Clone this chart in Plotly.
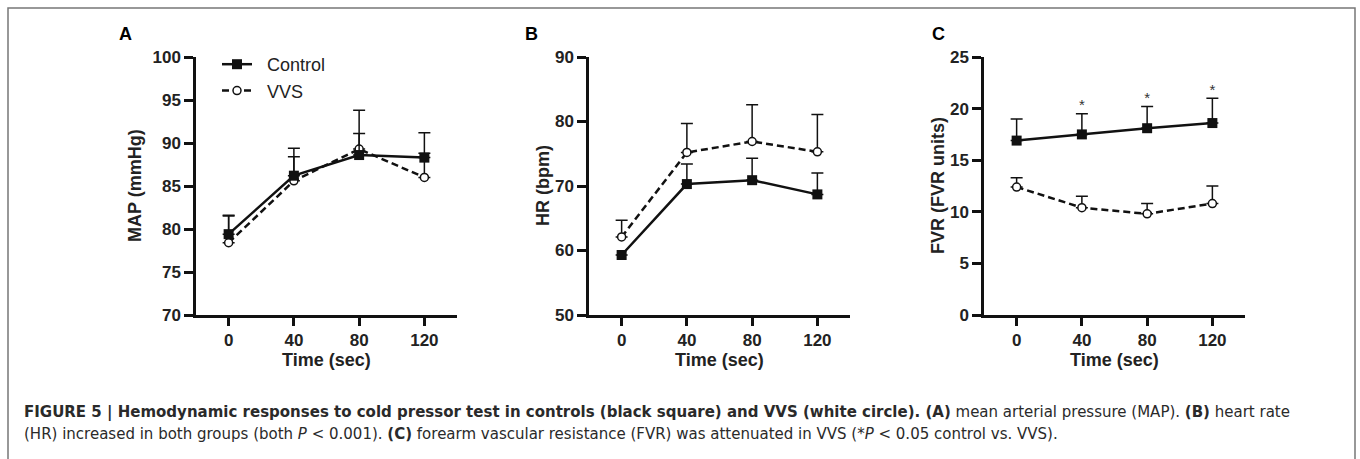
import plotly.graph_objects as go

W, H = 1360, 459

time_s = [0, 40, 80, 120]
time_ticks = [0, 40, 80, 120]

map_control = [79.4, 86.2, 88.6, 88.3]
map_control_err = [2.2, 3.2, 2.5, 2.9]
map_vvs = [78.4, 85.6, 89.3, 86.0]
map_vvs_err = [3.1, 2.8, 4.5, 2.8]

hr_control = [59.3, 70.3, 70.9, 68.7]
hr_control_err = [0.0, 3.1, 3.4, 3.3]
hr_vvs = [62.1, 75.2, 76.9, 75.3]
hr_vvs_err = [2.6, 4.5, 5.7, 5.8]

fvr_control = [16.9, 17.5, 18.1, 18.6]
fvr_control_err = [2.1, 2.0, 2.1, 2.4]
fvr_vvs = [12.4, 10.4, 9.8, 10.8]
fvr_vvs_err = [0.9, 1.1, 1.0, 1.7]
fvr_sig = [False, True, True, True]

map_ticks = [70, 75, 80, 85, 90, 95, 100]
hr_ticks = [50, 60, 70, 80, 90]
fvr_ticks = [0, 5, 10, 15, 20, 25]

FONT = "Liberation Sans, Arial, Helvetica, sans-serif"
CAPFONT = "DejaVu Sans, Liberation Sans, Arial, sans-serif"
INK = "#111111"
NB = "\u00a0"


def px_x(p):
    return p / W


def px_y(p):
    return 1 - p / H


panels = [
    dict(x0=196, x1=457, label="A", label_x=125, ytitle="MAP (mmHg)", ytitle_x=135,
         rng=[70, 100], ticks=map_ticks,
         ctrl=map_control, ctrl_e=map_control_err, vvs=map_vvs, vvs_e=map_vvs_err),
    dict(x0=589, x1=850, label="B", label_x=531, ytitle="HR (bpm)", ytitle_x=543,
         rng=[50, 90], ticks=hr_ticks,
         ctrl=hr_control, ctrl_e=hr_control_err, vvs=hr_vvs, vvs_e=hr_vvs_err),
    dict(x0=984, x1=1245, label="C", label_x=938, ytitle="FVR (FVR units)", ytitle_x=938,
         rng=[0, 25], ticks=fvr_ticks,
         ctrl=fvr_control, ctrl_e=fvr_control_err, vvs=fvr_vvs, vvs_e=fvr_vvs_err),
]
Y_TOP, Y_BOT = 57, 315

fig = go.Figure()
annotations = []
layout_axes = {}

for i, p in enumerate(panels):
    n = "" if i == 0 else str(i + 1)
    xa, ya = "x" + n, "y" + n
    fig.add_trace(go.Scatter(
        x=time_s, y=p["vvs"], xaxis=xa, yaxis=ya, mode="lines+markers",
        name=NB + NB + "VVS", showlegend=(i == 0), legendgroup="vvs", legendrank=2,
        line=dict(color=INK, width=2.5, dash="7px,4px"),
        marker=dict(symbol="circle", size=8, color="white", line=dict(color=INK, width=1.5)),
        error_y=dict(type="data", array=p["vvs_e"], arrayminus=[0] * 4, symmetric=False,
                     color=INK, thickness=1.5, width=6),
    ))
    fig.add_trace(go.Scatter(
        x=time_s, y=p["ctrl"], xaxis=xa, yaxis=ya, mode="lines+markers",
        name=NB + NB + "Control", showlegend=(i == 0), legendgroup="ctrl", legendrank=1,
        line=dict(color=INK, width=2.5),
        marker=dict(symbol="square", size=10, color=INK, line=dict(color=INK, width=0)),
        error_y=dict(type="data", array=p["ctrl_e"], arrayminus=[0] * 4, symmetric=False,
                     color=INK, thickness=1.5, width=6),
    ))
    layout_axes["xaxis" + n] = dict(
        domain=[px_x(p["x0"]), px_x(p["x1"])], range=[-20, 140],
        tickmode="array", tickvals=time_ticks, ticktext=[str(t) for t in time_ticks],
        showline=True, linewidth=2.5, linecolor=INK, ticks="outside", ticklen=8,
        tickwidth=2.5, tickcolor=INK, showgrid=False, zeroline=False, automargin=False,
        tickfont=dict(family=FONT, size=17, color="#222", weight="bold"),
        anchor=ya, fixedrange=True,
    )
    layout_axes["yaxis" + n] = dict(
        domain=[px_y(Y_BOT), px_y(Y_TOP)], range=p["rng"],
        tickmode="array", tickvals=p["ticks"], ticktext=[str(t) for t in p["ticks"]],
        showline=True, linewidth=2.5, linecolor=INK, ticks="outside", ticklen=9,
        tickwidth=2.5, tickcolor=INK, showgrid=False, zeroline=False, automargin=False,
        tickfont=dict(family=FONT, size=17, color="#222", weight="bold"),
        anchor=xa, fixedrange=True,
    )
    annotations.append(dict(
        text="<b>%s</b>" % p["label"], x=px_x(p["label_x"]), y=px_y(34), xref="paper", yref="paper",
        showarrow=False, font=dict(family=FONT, size=18, color="#000"), xanchor="center", yanchor="middle"))
    annotations.append(dict(
        text="<b>%s</b>" % p["ytitle"], x=px_x(p["ytitle_x"]), y=px_y((Y_TOP + Y_BOT) / 2),
        xref="paper", yref="paper", textangle=-90, showarrow=False,
        font=dict(family=FONT, size=18, color="#222"), xanchor="center", yanchor="middle"))
    annotations.append(dict(
        text="<b>Time (sec)</b>", x=60, y=px_y(360), xref=xa, yref="paper", showarrow=False,
        font=dict(family=FONT, size=18, color="#222"), xanchor="center", yanchor="middle"))

sig_x = [t for t, s in zip(time_s, fvr_sig) if s]
sig_y = [c + e for c, e, s in zip(fvr_control, fvr_control_err, fvr_sig) if s]
fig.add_trace(go.Scatter(
    x=sig_x, y=sig_y, xaxis="x3", yaxis="y3", mode="text", text=["*"] * len(sig_x),
    textposition="top center",
    textfont=dict(family=FONT, size=15, color="#333"), showlegend=False, hoverinfo="skip"))

cap1 = ("<b>FIGURE 5 | Hemodynamic responses to cold pressor test in controls (black square) and VVS "
        "(white circle). (A)</b> mean arterial pressure (MAP). <b>(B)</b> heart rate")
cap2 = ("(HR) increased in both groups (both <i>P</i> &lt; 0.001). <b>(C)</b> forearm vascular "
        "resistance (FVR) was attenuated in VVS (*<i>P</i> &lt; 0.05 control vs. VVS).")
for txt, yy in [(cap1, 412), (cap2, 434)]:
    annotations.append(dict(
        text=txt, x=px_x(22), y=px_y(yy), xref="paper", yref="paper", showarrow=False,
        xanchor="left", yanchor="middle", font=dict(family=CAPFONT, size=15, color="#2a2a2a")))

fig.update_layout(
    template="none",
    width=W, height=H, margin=dict(l=0, r=0, t=0, b=0, pad=0, autoexpand=False),
    paper_bgcolor="white", plot_bgcolor="white",
    annotations=annotations,
    showlegend=True,
    legend=dict(x=px_x(217), y=px_y(46), xanchor="left", yanchor="top",
                bgcolor="rgba(0,0,0,0)", font=dict(family=FONT, size=18, color="#222"),
                itemwidth=30, tracegroupgap=0),
    shapes=[dict(type="rect", xref="paper", yref="paper", x0=px_x(8), x1=px_x(1355),
                 y0=-0.05, y1=px_y(8), line=dict(color="#777", width=1.5))],
    **layout_axes,
)

fig.write_html("out.html", config={"displayModeBar": False},
               post_script="document.body.style.margin='0px';")
